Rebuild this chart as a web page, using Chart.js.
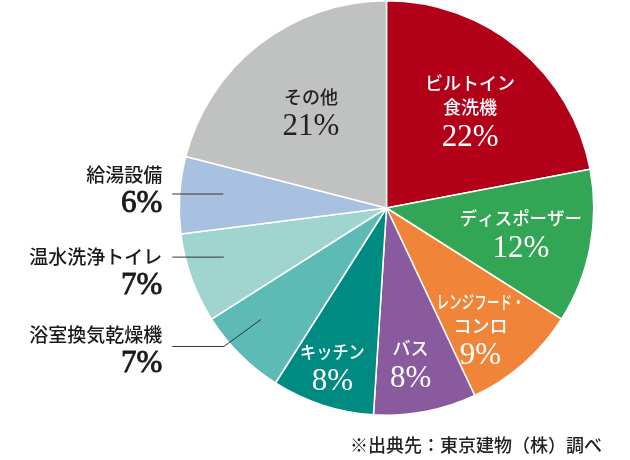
<!DOCTYPE html>
<html><head><meta charset="utf-8">
<script src="https://cdn.jsdelivr.net/npm/chart.js@4.4.1/dist/chart.umd.min.js"></script>
<style>
html,body{margin:0;padding:0;background:#fff}
#wrap{width:630px;height:460px;position:relative}
</style>
</head><body>
<div id="wrap"><canvas id="pie" width="630" height="460"></canvas></div>
<script>
// clockwise from 12 o'clock
const categories = [['ビルトイン', '食洗機'], ['ディスポーザー'], ['レンジフード・', 'コンロ'], ['バス'], ['キッチン'], ['浴室換気乾燥機'], ['温水洗浄トイレ'], ['給湯設備'], ['その他']];
const shares = [22, 12, 9, 8, 8, 7, 7, 6, 21];
const sliceColors = ['#b30019', '#33a655', '#f0853a', '#8a5a9e', '#008b82', '#5dbab5', '#a0d4cf', '#a9c1e1', '#c0c1c1'];
const sourceNote = '※出典先：東京建物（株）調べ';

const JP = '"Noto Sans CJK JP", "Noto Sans", sans-serif';
const SERIF = '"Liberation Serif", "DejaVu Serif", serif';

// where each label sits: fraction of radius, angle nudge in degrees
const place = [
    { r: 0.62, da: 1, color: '#fff' },
    { r: 0.66, da: 0, color: '#fff', squeeze: 0.97 },
    { r: 0.74, da: 3.6, color: '#fff', squeeze: 0.7 },
    { r: 0.76, da: 2, color: '#fff' },
    { r: 0.81, da: 0.8, color: '#fff', squeeze: 0.9 },
    { out: true, r: 0.81, da: 3.4, elbow: 27, dy: -12 },
    { out: true, r: 0.82, da: 3, dy: 0 },
    { out: true, r: 0.79, da: 1.3, dy: -19 },
    { r: 0.59, da: -0.4, color: '#222' }
];

const pieLabels = {
    id: 'pieLabels',
    afterDatasetsDraw(chart) {
        const ctx = chart.ctx;
        const meta = chart.getDatasetMeta(0);
        ctx.save();
        ctx.textBaseline = 'middle';
        meta.data.forEach((arc, i) => {
            const p = place[i];
            const a = (arc.startAngle + arc.endAngle) / 2 + p.da * Math.PI / 180;
            const R = arc.outerRadius * p.r;
            const x = arc.x + R * Math.cos(a);
            const y = arc.y + R * Math.sin(a);
            const lines = categories[i];
            const pct = shares[i] + '%';
            if (!p.out) {
                const blockH = (lines.length - 1) * 24 + 30;
                const top = y - blockH / 2;
                ctx.fillStyle = p.color;
                ctx.textAlign = 'center';
                ctx.font = '500 18px ' + JP;
                lines.forEach((t, k) => {
                    const w = ctx.measureText(t).width;
                    // katakana in the original is set proportionally, so squeeze the long lines
                    if (p.squeeze && t.length > 3) ctx.fillText(t, x, top + k * 24, w * p.squeeze);
                    else ctx.fillText(t, x, top + k * 24);
                });
                ctx.font = '31px ' + SERIF;
                ctx.fillText(pct, x, top + (lines.length - 1) * 24 + 30);
                return;
            }
            const textX = arc.x - arc.outerRadius - 17;
            ctx.strokeStyle = '#333';
            ctx.lineWidth = 1;
            ctx.beginPath();
            ctx.moveTo(x, y);
            let lineY = y;
            if (p.elbow) {
                lineY = y + p.elbow;
                ctx.lineTo(x - p.elbow * 1.37, lineY);
            }
            ctx.lineTo(textX + 10, lineY);
            ctx.stroke();
            ctx.fillStyle = '#1a1a1a';
            ctx.textAlign = 'right';
            ctx.font = '500 19px ' + JP;
            ctx.fillText(lines[0], textX, lineY + p.dy);
            // semibold look: regular serif with a thin outline
            ctx.font = '31px ' + SERIF;
            ctx.strokeStyle = '#1a1a1a';
            ctx.lineWidth = 0.9;
            ctx.fillText(pct, textX, lineY + p.dy + 29);
            ctx.strokeText(pct, textX, lineY + p.dy + 29);
        });
        ctx.fillStyle = '#222';
        ctx.textAlign = 'right';
        ctx.font = '500 18px ' + JP;
        ctx.fillText(sourceNote, 602, 445, 253);
        ctx.restore();
    }
};

new Chart(document.getElementById('pie'), {
    type: 'pie',
    data: {
        labels: categories.map(c => c.join('')),
        datasets: [{
            data: shares,
            backgroundColor: sliceColors,
            borderColor: '#fff',
            borderWidth: 1.5
        }]
    },
    options: {
        responsive: false,
        animation: false,
        devicePixelRatio: 1,
        layout: { padding: { left: 178, right: 35, top: 0, bottom: 44 } },
        plugins: {
            legend: { display: false },
            tooltip: { enabled: false }
        }
    },
    plugins: [pieLabels]
});
</script>
</body></html>
